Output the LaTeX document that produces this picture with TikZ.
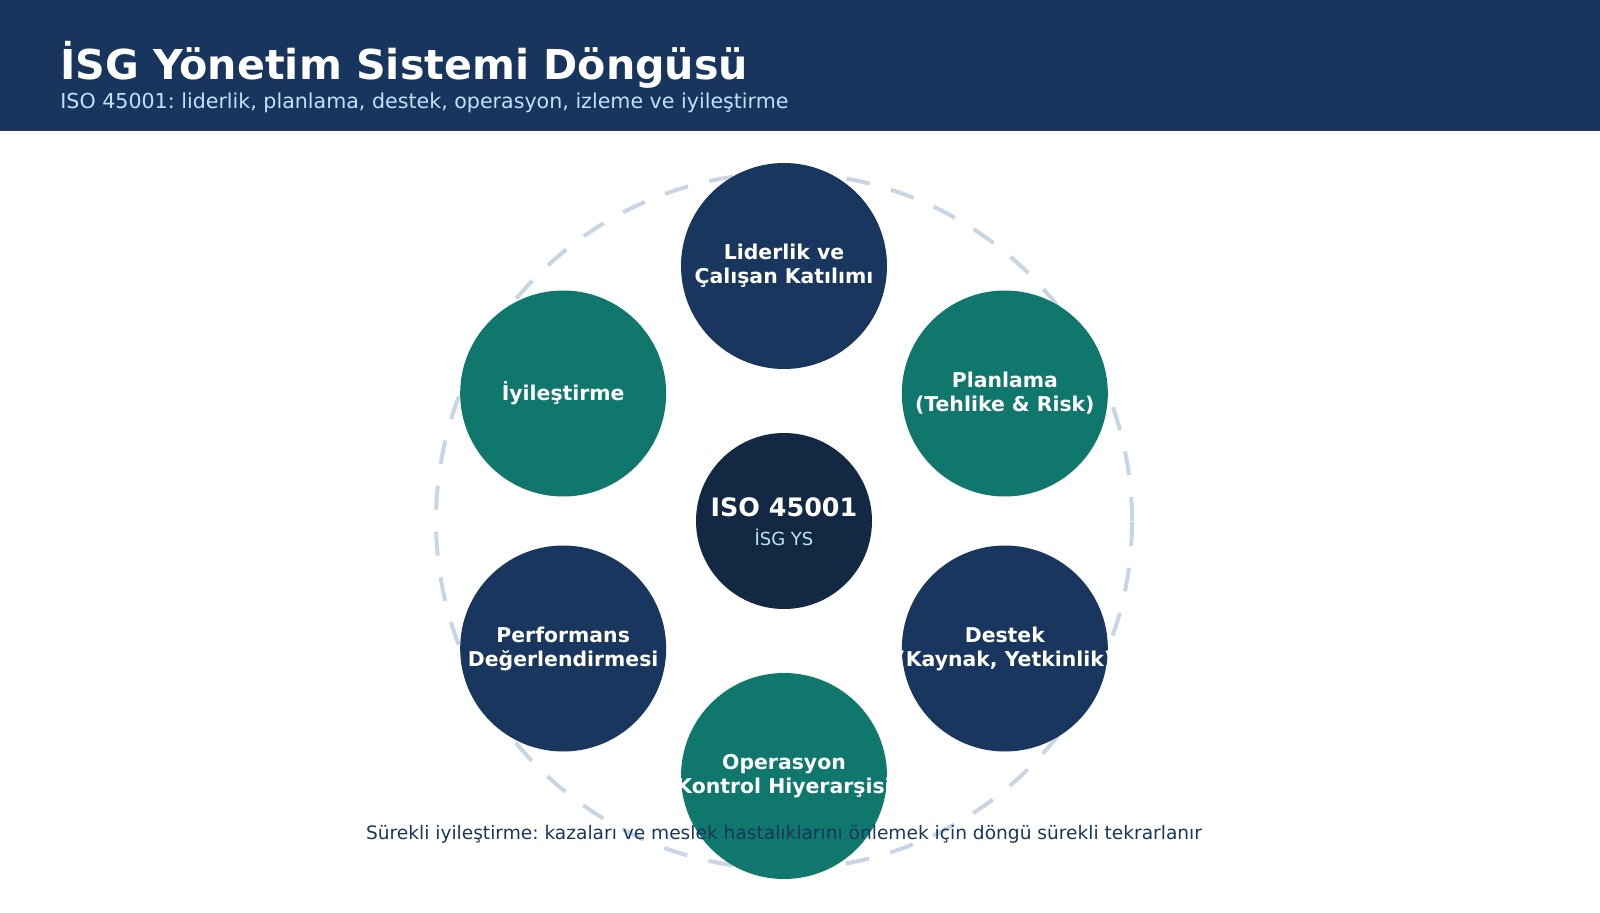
\documentclass[tikz,border=0pt]{standalone}
\usepackage{fontspec}
\setmainfont{DejaVu Sans}
\frenchspacing
\definecolor{headnavy}{HTML}{17355D}
\definecolor{ballnavy}{HTML}{18365E}
\definecolor{ballteal}{HTML}{10776C}
\definecolor{corenavy}{HTML}{122843}
\definecolor{ringgray}{HTML}{C8D6E4}
\definecolor{paleblue}{HTML}{BEE3F8}
\begin{document}
\begin{tikzpicture}[x=0.5pt,y=0.5pt,
    ball/.style={circle,minimum size=103pt,inner sep=0pt},
    balltext/.style={text=white,align=center,font=\bfseries\fontsize{10.2}{12}\selectfont}]
  \useasboundingbox (0,0) rectangle (1600,912);
  \fill[headnavy] (0,781) rectangle (1600,912);
  \node[anchor=base west,text=white,font=\bfseries\fontsize{20.6}{24}\selectfont,inner sep=0pt] (title) at (60,832) {İSG Yönetim Sistemi Döngüsü};
  \node[anchor=base west,text=paleblue,font=\fontsize{10.3}{12}\selectfont,inner sep=0pt] (subtitle) at (60,803) {ISO 45001: liderlik, planlama, destek, operasyon, izleme ve iyileştirme};
  \begin{scope}[shift={(784,391)}]
    \draw[ringgray,line width=2pt,dash pattern=on 12pt off 11pt] (0,0) circle (174pt);
    \draw
      (90:255) node[ball,fill=ballnavy] (lead){}
      (30:255) node[ball,fill=ballteal] (plan){}
      (-30:255) node[ball,fill=ballnavy] (support){}
      (-90:255) node[ball,fill=ballteal] (oper){}
      (210:255) node[ball,fill=ballnavy] (perf){}
      (150:255) node[ball,fill=ballteal] (impr){}
      (0,0) node[circle,minimum size=88pt,fill=corenavy] (core){};
    \node[balltext] at (lead) {Liderlik ve\\Çalışan Katılımı};
    \node[balltext] at (plan) {Planlama\\(Tehlike \& Risk)};
    \node[balltext] at (support) {Destek\\(Kaynak, Yetkinlik)};
    \node[balltext] at (oper) {Operasyon\\(Kontrol Hiyerarşisi)};
    \node[balltext] at (perf) {Performans\\Değerlendirmesi};
    \node[balltext] at (impr) {İyileştirme};
    \node[text=white,font=\bfseries\fontsize{12.7}{15}\selectfont] (iso) at (0,14) {ISO 45001};
    \node[text=paleblue,font=\fontsize{9}{11}\selectfont] (isg) at (0,-16) {İSG YS};
  \end{scope}
  \node[text=ballnavy,font=\fontsize{9.3}{11}\selectfont] (footer) at (784,78) {Sürekli iyileştirme: kazaları ve meslek hastalıklarını önlemek için döngü sürekli tekrarlanır};
\end{tikzpicture}
\end{document}
